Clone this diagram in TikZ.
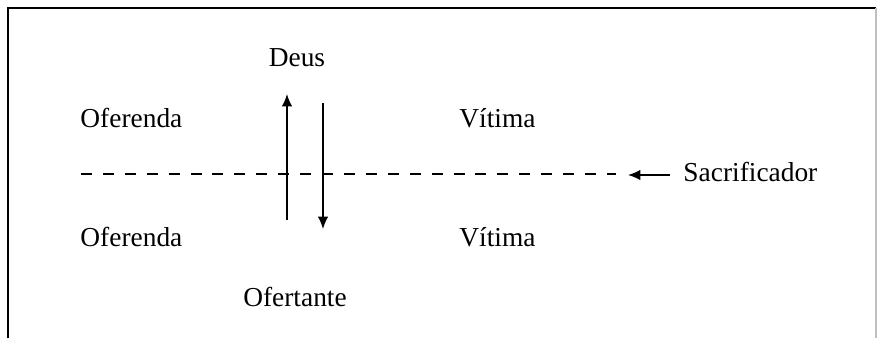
\documentclass[tikz,border=0pt]{standalone}
\usepackage{fontspec}
\setmainfont{Liberation Serif}
\usetikzlibrary{arrows.meta,positioning}
\begin{document}
\begin{tikzpicture}[x=0.0154cm,y=-0.0154cm]

    \tikzset{
      word/.style={
        inner sep=0pt,
        font=\fontsize{12pt}{14pt}\selectfont,
      },
      flow/.style={
        line width=0.7pt,
        -{Latex[length=5.4pt,width=4.6pt]},
      },
    }
    \useasboundingbox (0,0) rectangle (883,338);
    % frame, open at the bottom
    \draw[line width=0.8pt] (8,338)--(8,8)--(876,8);
    \draw[line width=0.6pt,black!25] (876,8)--(876,338);
	\node[word] (deus) at (297,58) {Deus};
	\node[word] (ofertante) at (295,297) {Ofertante};
	\node[word,anchor=west] (oftop) at (80,118) {Oferenda};
	\node[word,anchor=west] (ofbot) at (80,237) {Oferenda};
	\node[word,anchor=west] (vitop) at (459,118) {Vítima};
	\node[word,anchor=west] (vibot) at (459,237) {Vítima};
	\node[word,anchor=west] (sac) at (683,172) {Sacrificador};
	\coordinate (upfrom) at (287,220);
	\coordinate (upto) at (287,94);
	\coordinate (downfrom) at (323,103);
	\coordinate (downto) at (323,229);
	\coordinate (dashL) at (81,174);
	\coordinate (dashR) at (616,174);
	\coordinate (sacto) at (628,175);
	\draw[line width=0.7pt,dash pattern=on 4.8pt off 4.8pt] (dashL)--(dashR);
	\draw[flow] (upfrom)--(upto);
	\draw[flow] (downfrom)--(downto);
	\draw[flow] (sac.west |- sacto) ++(-13,0) -- (sacto);

\end{tikzpicture}
\end{document}
